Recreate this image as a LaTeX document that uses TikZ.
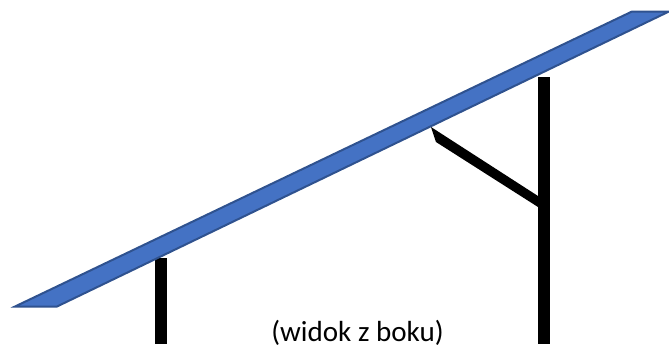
\documentclass[tikz,border=0pt]{standalone}
\usepackage{fontspec}
\setmainfont{Carlito}
\definecolor{panelfill}{HTML}{4472C4}
\definecolor{paneledge}{HTML}{2F528F}
\tikzset{
  panelshape/.style={fill=panelfill,draw=paneledge,line width=1.5pt,line join=miter},
  steelshape/.style={fill=black,draw=none},
  captiontext/.style={font=\fontsize{21.8}{25}\selectfont,text=black,inner sep=0pt,anchor=base}
}
\begin{document}
\begin{tikzpicture}[x=0.75pt,y=-0.75pt]
\useasboundingbox (0,0) rectangle (669,344);
\clip (0,0) rectangle (669,344);
\fill[steelshape] (155,258) rectangle (167,344);
\fill[steelshape] (538,77) rectangle (550,344);
\fill[steelshape] (431,127) -- (436,142) -- (538,207) -- (538,196) -- cycle;
\draw[panelshape] (15,306.5) -- (57,306.5) -- (669,11.5) -- (632,11.5) -- cycle;
\node[captiontext] (caption) at (357.5,341) {(widok z boku)};
\end{tikzpicture}
\end{document}
